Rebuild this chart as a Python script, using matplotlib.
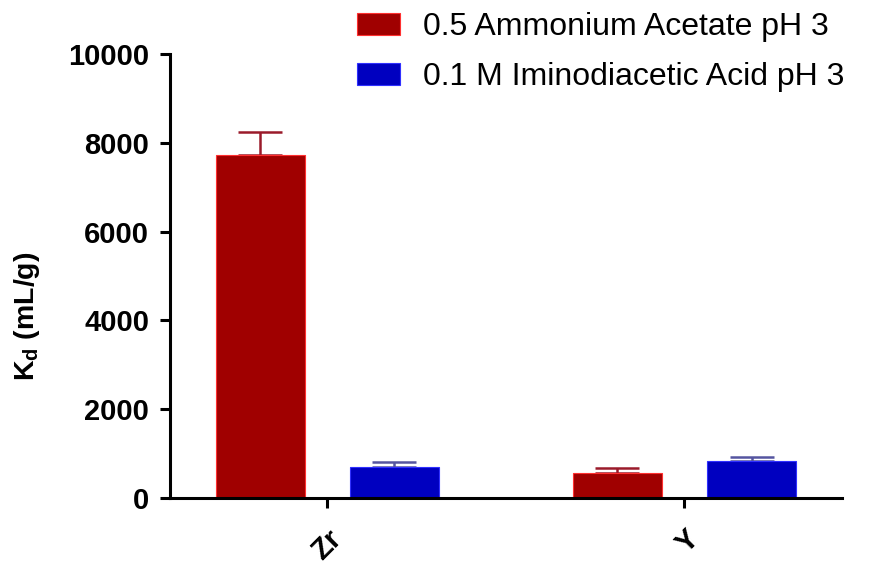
import matplotlib.pyplot as plt
import numpy as np

plt.rcParams['font.family'] = ['Liberation Sans', 'DejaVu Sans']

metals = ['Zr', 'Y']
series = ['0.5 Ammonium Acetate pH 3', '0.1 M Iminodiacetic Acid pH 3']
kd_acetate = [7720, 565]
err_acetate = [520, 110]
kd_ida = [700, 835]
err_ida = [110, 90]

fill = ['#a00000', '#0000c0']
edge = ['#ff3030', '#3030ff']
errc = ['#9a1a2a', '#5555a0']

fig = plt.figure(figsize=(8.87, 5.65), dpi=100)
ax = fig.add_axes([0.1917, 0.1186, 0.7575, 0.7858])

x = np.arange(len(metals))
w = 0.25
off = 0.1877
for i, (vals, errs) in enumerate([(kd_acetate, err_acetate), (kd_ida, err_ida)]):
    pos = x - off if i == 0 else x + off
    ax.bar(pos, vals, width=w, color=fill[i], edgecolor=edge[i], linewidth=0.8,
           label=series[i], zorder=2)
    ax.errorbar(pos, vals, yerr=[np.zeros(len(errs)), errs], fmt='none',
                ecolor=errc[i], elinewidth=1.8, capsize=16, capthick=1.8, zorder=1)

ax.set_xlim(-0.441, 1.441)
ax.set_ylim(0, 10000)
ax.set_yticks(range(0, 10001, 2000))
ax.set_xticks(x)
ax.set_xticklabels(metals, rotation=45, ha='right', rotation_mode='anchor')

for s in ['top', 'right']:
    ax.spines[s].set_visible(False)
for s in ['left', 'bottom']:
    ax.spines[s].set_linewidth(2.2)
ax.tick_params(axis='both', width=2.2, length=7, labelsize=21)
ax.tick_params(axis='y', pad=8)
ax.tick_params(axis='x', pad=12)
for lab in ax.get_yticklabels() + ax.get_xticklabels():
    lab.set_fontweight('bold')

ax.set_ylabel(r'K$_\mathregular{d}$ (mL/g)', fontsize=20.5, fontweight='bold')
ax.yaxis.set_label_coords(-0.19, 0.41)

fig.legend(loc='upper left', bbox_to_anchor=(0.4025, 0.978), frameon=False,
           fontsize=23, handlelength=1.35, handleheight=0.7, handletextpad=0.72,
           labelspacing=0.62, borderpad=0, borderaxespad=0)

fig.savefig('out.png', dpi=100)
